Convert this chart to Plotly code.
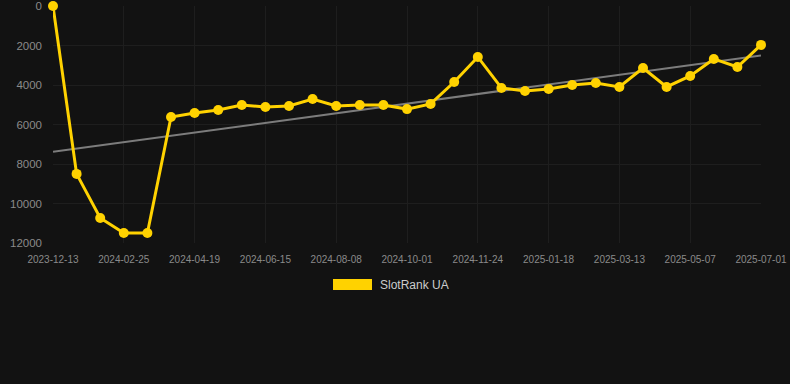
import numpy as np
import plotly.graph_objects as go

dates = [
    "2023-12-13", "2024-01-07", "2024-02-01", "2024-02-25", "2024-03-13", "2024-04-01",
    "2024-04-19", "2024-05-08", "2024-05-27", "2024-06-15", "2024-07-03", "2024-07-21",
    "2024-08-08", "2024-08-26", "2024-09-13", "2024-10-01", "2024-10-19", "2024-11-06",
    "2024-11-24", "2024-12-12", "2024-12-31", "2025-01-18", "2025-02-05", "2025-02-23",
    "2025-03-13", "2025-03-31", "2025-04-18", "2025-05-07", "2025-05-25", "2025-06-12",
    "2025-07-01",
]
rank = [
    0, 8500, 10730, 11490, 11490, 5620, 5420, 5270, 5010, 5110, 5060, 4710, 5060, 5010,
    5010, 5220, 4960, 3850, 2580, 4150, 4300, 4200, 4000, 3900, 4100, 3140, 4100, 3540,
    2680, 3090, 1970,
]
tick_labels = [
    "2023-12-13", "2024-02-25", "2024-04-19", "2024-06-15", "2024-08-08", "2024-10-01",
    "2024-11-24", "2025-01-18", "2025-03-13", "2025-05-07", "2025-07-01",
]
y_ticks = [0, 2000, 4000, 6000, 8000, 10000, 12000]
series_name = "SlotRank UA"

idx = np.arange(len(rank))
slope, intercept = np.polyfit(idx, rank, 1)
trend = slope * idx + intercept

fig = go.Figure()
fig.add_trace(go.Scatter(
    x=dates, y=trend, mode="lines",
    line=dict(color="#7c7c7c", width=2), showlegend=False, hoverinfo="skip",
))
fig.add_trace(go.Scatter(
    x=dates, y=rank, mode="lines+markers", name=series_name,
    line=dict(color="#ffd200", width=3),
    marker=dict(color="#ffd200", size=10),
    showlegend=False, cliponaxis=False,
))

L, R, T, B = 53, 29, 6, 141
PW, PH = 790 - L - R, 384 - T - B

# legend swatch + label
fig.add_shape(type="rect", xref="paper", yref="paper",
              x0=(333 - L) / PW, x1=(372 - L) / PW,
              y0=(384 - B - 290) / PH, y1=(384 - B - 279) / PH,
              fillcolor="#ffd200", line=dict(width=0))
fig.add_annotation(xref="paper", yref="paper", x=(378 - L) / PW, y=(384 - B - 284.5) / PH,
                   text=series_name, showarrow=False, xanchor="left", yanchor="middle",
                   font=dict(size=12, color="#cccccc", family="Liberation Sans, Arial, sans-serif"))

fig.update_layout(
    width=790, height=384,
    paper_bgcolor="#121212", plot_bgcolor="#121212",
    margin=dict(l=L, r=R, t=T, b=B),
    font=dict(family="Liberation Sans, Arial, sans-serif"),
    showlegend=False,
)
fig.update_xaxes(
    type="category", range=[0, len(dates) - 1], automargin=False,
    tickmode="array", tickvals=tick_labels, ticktext=tick_labels,
    tickfont=dict(size=10, color="#8a8a8a"),
    showgrid=True, gridcolor="#1e1e1e", gridwidth=1,
    zeroline=False, showline=False, ticks="", ticklabelstandoff=9,
)
fig.update_yaxes(
    range=[12000, 0], tickmode="array", tickvals=y_ticks, automargin=False,
    ticktext=[str(v) for v in y_ticks],
    tickfont=dict(size=11.5, color="#8a8a8a"),
    showgrid=True, gridcolor="#1e1e1e", gridwidth=1,
    zeroline=False, showline=False, ticks="", ticklabelstandoff=10,
)

fig.write_html(
    "out.html",
    config={"displayModeBar": False},
    post_script="document.body.style.margin='0';document.body.style.background='#121212';",
)
